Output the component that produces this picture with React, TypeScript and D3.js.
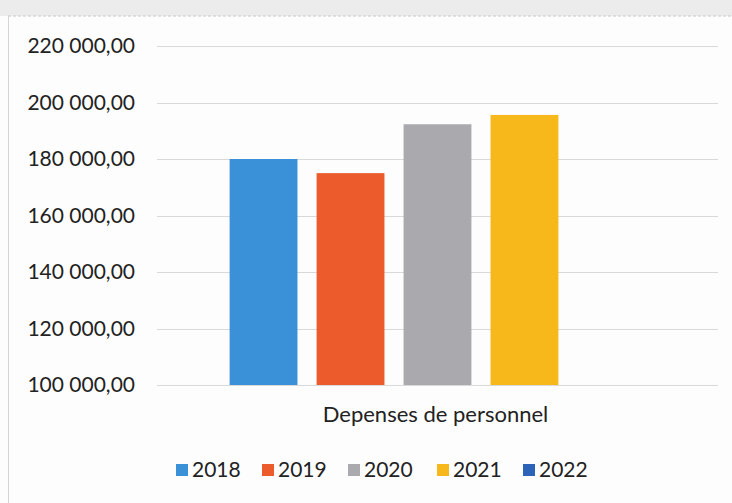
import React from "react";
import * as d3 from "d3";

const categories = ["Depenses de personnel"];
const years = ["2018", "2019", "2020", "2021", "2022"];
const values: (number | null)[] = [180000, 175000, 192300, 195600, null];
const colors = ["#3a91d8", "#ec5b2b", "#a9a9ae", "#f6b81a", "#2c62b8"];
const yTicks = [100000, 120000, 140000, 160000, 180000, 200000, 220000];

const W = 732;
const H = 503;
const left = 157;
const right = 718;
const top = 46;
const bottom = 385;
const FONT = "Lato, 'Open Sans', sans-serif";

const fmt = (v: number) => {
  const s = d3.format(",.2f")(v);
  return s.replace(/,/g, " ").replace(".", ",");
};

export default function App() {
  const y = d3.scaleLinear().domain([100000, 220000]).range([bottom, top]);
  const x0 = d3.scaleBand<string>().domain(categories).range([left, right]).paddingInner(0).paddingOuter(0.145);
  const x1 = d3.scaleBand<string>().domain(years).range([0, x0.bandwidth()]).paddingInner(0.22).paddingOuter(0.11);

  const legendX = [176, 262, 348, 437, 523];

  return (
    <svg width={W} height={H} style={{ position: "absolute", left: 0, top: 0, background: "#fdfdfd" }} fontFamily={FONT}>
      <rect x={0} y={0} width={W} height={16} fill="#ececec" />
      <line x1={8} y1={16} x2={W} y2={16} stroke="#c8c8c8" strokeDasharray="3,2" />
      <line x1={8.5} y1={16} x2={8.5} y2={H} stroke="#d4d4d4" />
      {yTicks.map((t) => (
        <g key={t}>
          <line x1={left} x2={right} y1={Math.round(y(t)) + 0.5} y2={Math.round(y(t)) + 0.5} stroke="#d9d9d9" strokeWidth={1} />
          <text x={135} y={y(t)} dy="0.35em" textAnchor="end" fontSize={21} fill="#222">
            {fmt(t)}
          </text>
        </g>
      ))}
      {categories.map((c) => (
        <g key={c} transform={`translate(${x0(c)},0)`}>
          {years.map((yr, i) =>
            values[i] == null ? null : (
              <rect
                key={yr}
                x={x1(yr)}
                y={y(values[i] as number)}
                width={x1.bandwidth()}
                height={bottom - y(values[i] as number)}
                fill={colors[i]}
              />
            )
          )}
          <text x={x0.bandwidth() / 2 - 2} y={422} textAnchor="middle" fontSize={22} fill="#222">
            {c}
          </text>
        </g>
      ))}
      {years.map((yr, i) => (
        <g key={yr} transform={`translate(${legendX[i]},0)`}>
          <rect x={0} y={464} width={12} height={12} fill={colors[i]} />
          <text x={16} y={477} fontSize={21} fill="#222">
            {yr}
          </text>
        </g>
      ))}
    </svg>
  );
}
